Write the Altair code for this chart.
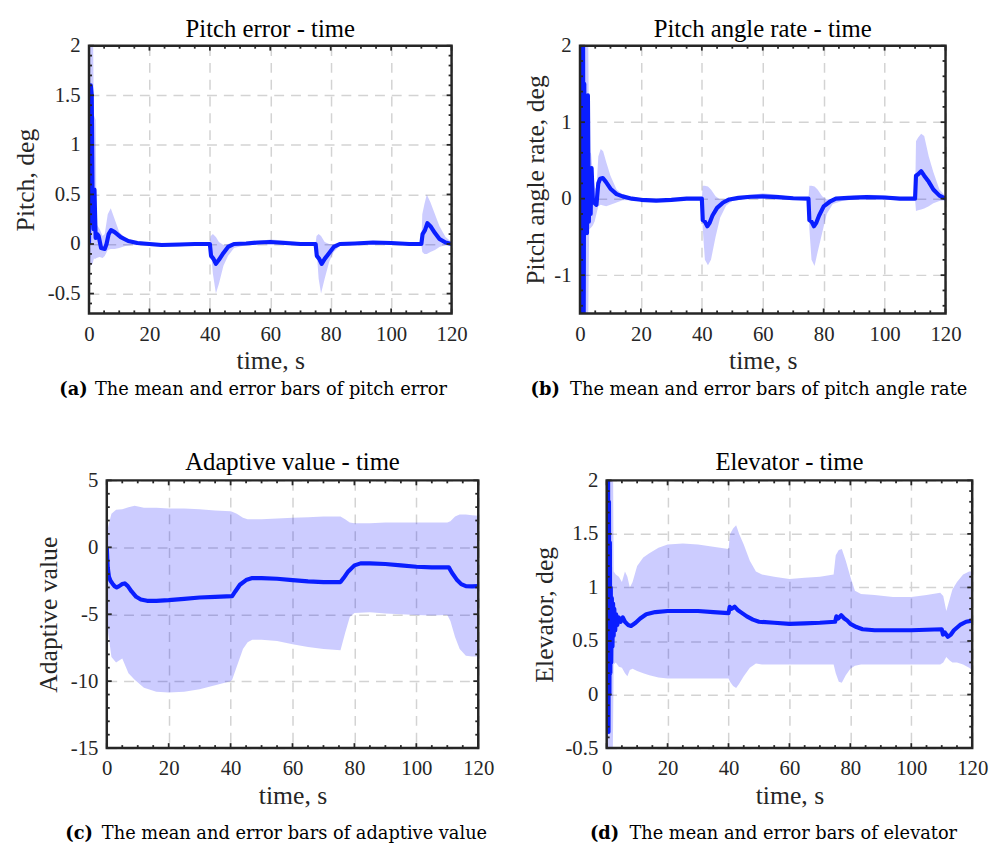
import altair as alt
import pandas as pd

# ---------------- data ----------------
X_MAJOR = [0, 20, 40, 60, 80, 100, 120]
X_MINOR = [5, 10, 15, 25, 30, 35, 45, 50, 55, 65, 70, 75, 85, 90, 95, 105, 110, 115]

# (a) pitch error
A_T = [0, 0.2, 0.6, 0.9, 1.2, 1.5, 1.8, 2.2, 2.7, 3.2, 4.0, 5.2, 5.8, 6.5, 7.3, 8.5, 10.5, 13, 16, 20,
       24, 30, 35, 40, 40.4, 41.2, 42, 43, 44.5, 46, 48, 52, 56, 60, 65, 70, 75, 75.4, 76.2, 77,
       78, 79.5, 81, 83, 88, 94, 100, 106, 110, 110.4, 111.2, 112, 113, 114.5, 116, 118, 120]
A_MEAN = [0, 0.8, 1.6, 1.5, 0.4, 0.15, 0.55, 0.06, 0.1, 0.08, -0.04, -0.05, 0.0, 0.1, 0.14, 0.12, 0.07, 0.03, 0.01, 0.0,
          -0.01, -0.005, 0.0, 0.0, -0.12, -0.15, -0.2, -0.16, -0.09, -0.03, 0.0, 0.005, 0.015, 0.02, 0.01, 0.0, 0.0, -0.12, -0.15, -0.2,
          -0.15, -0.09, -0.03, 0.0, 0.005, 0.015, 0.01, 0.0, 0.0, 0.1, 0.14, 0.21, 0.18, 0.11, 0.05, 0.015, 0.0]
A_BT = [0, 0.5, 1.2, 1.6, 2.2, 2.5, 3.5, 4.5, 5.2, 6.2, 7.2, 8.5, 10, 12, 15, 20, 25, 30, 35, 40,
        40.3, 41, 42, 43, 44.5, 46, 48, 52, 56, 60, 65, 70, 75, 75.3, 76, 76.8, 78, 79.5, 81, 83,
        88, 94, 100, 106, 110, 110.3, 111, 111.8, 113, 114.5, 116, 118, 120]
A_UP = [2.6, 2.6, 2.6, 1.3, 1.25, 0.2, 0.15, 0.08, 0.1, 0.3, 0.36, 0.25, 0.12, 0.06, 0.03, 0.015, 0.01, 0.01, 0.01, 0.01,
        0.08, 0.1, 0.07, 0.02, -0.01, 0.0, 0.02, 0.02, 0.03, 0.045, 0.035, 0.015, 0.01, 0.08, 0.1, 0.08, 0.02, 0.0, 0.0, 0.01,
        0.02, 0.03, 0.02, 0.01, 0.01, 0.3, 0.4, 0.5, 0.42, 0.3, 0.18, 0.07, 0.02]
A_LO = [-0.15, -0.22, -0.2, -0.15, -0.15, -0.14, -0.13, -0.14, -0.12, -0.06, -0.05, -0.05, -0.04, -0.02, -0.01, -0.02, -0.03, -0.025, -0.01, -0.01,
        -0.05, -0.3, -0.5, -0.4, -0.22, -0.12, -0.04, -0.01, 0.0, 0.0, -0.01, -0.01, -0.01, -0.05, -0.35, -0.5, -0.35, -0.18, -0.08, -0.02,
        -0.01, 0.0, -0.01, -0.01, -0.01, -0.08, -0.1, -0.1, -0.08, -0.06, -0.03, -0.01, -0.01]
A_Y_MAJOR = [-0.5, 0, 0.5, 1, 1.5, 2]
A_Y_MINOR = [-0.6, -0.4, -0.3, -0.2, -0.1, 0.1, 0.2, 0.3, 0.4, 0.6, 0.7, 0.8, 0.9, 1.1, 1.2, 1.3, 1.4, 1.6, 1.7, 1.8, 1.9]

# (b) pitch angle rate
B_T = [0, 0.2, 0.4, 0.6, 0.8, 1.0, 1.2, 1.4, 1.7, 2.0, 2.3, 2.6, 2.9, 3.2, 3.5, 3.8, 4.2, 4.8, 5.4, 6.0,
       6.6, 7.5, 8.5, 10, 12, 14, 17, 20, 25, 30, 35, 40, 40.3, 41, 41.8, 42.5, 43.5, 45, 47, 49,
       52, 56, 60, 65, 70, 75, 75.3, 76, 76.8, 77.5, 78.5, 80, 82, 84, 88, 94, 100, 105, 110, 110.3,
       111, 112, 113, 114.5, 116, 118, 120]
B_MEAN = [0.15, 2.5, -1.8, 2.5, -1.8, 2.2, -1.8, 1.5, -0.4, 0.5, -0.45, 1.35, -0.3, 0.3, -0.2, 0.4, 0.0, -0.06, -0.08, 0.2,
          0.26, 0.27, 0.22, 0.13, 0.06, 0.03, 0.0, -0.015, -0.025, -0.015, 0.0, 0.0, -0.28, -0.3, -0.36, -0.32, -0.22, -0.12, -0.05, -0.01,
          0.01, 0.025, 0.03, 0.02, 0.005, 0.0, -0.28, -0.3, -0.36, -0.32, -0.22, -0.1, -0.04, 0.0, 0.01, 0.02, 0.015, 0.0, 0.0, 0.3,
          0.32, 0.36, 0.3, 0.22, 0.12, 0.04, 0.0]
B_BT = [0, 1.0, 2.0, 2.6, 3.0, 3.6, 4.2, 4.8, 5.4, 6.0, 6.8, 7.6, 8.6, 10, 12, 14, 17, 20, 25, 30,
        35, 40, 40.3, 41, 42, 43, 44.5, 46, 48, 50, 55, 60, 65, 70, 75, 75.3, 76, 77, 78, 79.5,
        81, 83, 86, 90, 95, 100, 105, 110, 110.3, 111, 112, 113, 114.5, 116, 118, 120]
B_UP = [2.6, 2.6, 2.6, 2.6, 0.6, 0.6, 0.35, 0.15, 0.12, 0.55, 0.65, 0.62, 0.48, 0.3, 0.12, 0.05, 0.02, 0.005, -0.005, 0.005,
        0.01, 0.01, 0.17, 0.17, 0.16, 0.12, 0.03, -0.01, 0.0, 0.01, 0.04, 0.07, 0.05, 0.02, 0.01, 0.17, 0.17, 0.16, 0.12, 0.03,
        -0.01, 0.0, 0.02, 0.04, 0.05, 0.04, 0.02, 0.01, 0.75, 0.8, 0.85, 0.82, 0.55, 0.35, 0.12, 0.03]
B_LO = [-2.0, -2.0, -2.0, -2.0, -0.4, -0.38, -0.35, -0.3, -0.2, -0.1, -0.08, -0.09, -0.1, -0.08, -0.05, -0.02, -0.02, -0.03, -0.04, -0.03,
        -0.01, -0.01, -0.4, -0.8, -0.87, -0.8, -0.5, -0.25, -0.09, -0.03, 0.0, 0.0, -0.01, -0.01, -0.01, -0.4, -0.8, -0.88, -0.7, -0.45,
        -0.2, -0.07, -0.03, -0.01, 0.0, -0.01, -0.01, -0.01, -0.16, -0.15, -0.14, -0.13, -0.1, -0.06, -0.03, -0.02]
B_Y_MAJOR = [-1, 0, 1, 2]
B_Y_MINOR = [-1.4, -1.2, -0.8, -0.6, -0.4, -0.2, 0.2, 0.4, 0.6, 0.8, 1.2, 1.4, 1.6, 1.8]

# (c) adaptive value
C_T = [0, 0.3, 0.7, 1.2, 1.8, 2.5, 3.2, 4.0, 5.0, 5.8, 6.8, 8.0, 9.5, 11, 13, 16, 20, 25, 30, 35,
       40.5, 41.5, 43, 45, 47, 50, 55, 60, 65, 70, 75.5, 76.5, 78, 80, 82, 85, 90, 95, 100, 105,
       110.5, 111.5, 113, 114.5, 116, 118, 120]
C_MEAN = [0, -1.5, -2.2, -2.5, -2.7, -2.9, -3.0, -2.9, -2.75, -2.7, -2.9, -3.3, -3.7, -3.9, -4.0, -4.0, -3.95, -3.85, -3.75, -3.7,
          -3.65, -3.3, -2.8, -2.45, -2.3, -2.3, -2.35, -2.45, -2.55, -2.6, -2.6, -2.3, -1.8, -1.35, -1.2, -1.2, -1.25, -1.35, -1.45, -1.5,
          -1.5, -1.9, -2.4, -2.75, -2.9, -2.92, -2.9]
C_BT = [0, 0.5, 1.5, 3, 5, 7, 9, 12, 16, 20, 25, 30, 35, 40, 40.5, 42, 44, 45.5, 47, 50,
        55, 60, 65, 70, 75.5, 77, 78.5, 80, 85, 90, 95, 100, 105, 110, 111, 112.5, 114, 116, 118, 120]
C_UP = [1.0, 1.6, 2.5, 2.8, 2.85, 3.0, 3.1, 2.95, 2.95, 2.9, 2.9, 2.85, 2.75, 2.7, 2.65, 2.5, 2.2, 2.1, 2.1, 2.1,
        2.15, 2.2, 2.25, 2.3, 2.3, 2.1, 1.85, 1.8, 1.8, 1.85, 1.85, 1.85, 1.85, 1.85, 1.95, 2.3, 2.45, 2.45, 2.4, 2.35]
C_LO = [-5.5, -6.5, -8.2, -8.6, -8.3, -9.4, -9.9, -10.5, -10.8, -10.85, -10.8, -10.6, -10.3, -10.0, -9.9, -8.9, -7.6, -7.1, -6.9, -6.9,
        -7.0, -7.25, -7.45, -7.6, -7.7, -6.4, -5.2, -4.9, -4.85, -4.95, -5.0, -5.05, -5.1, -5.05, -5.5, -6.7, -7.6, -8.1, -8.15, -8.15]
C_Y_MAJOR = [-15, -10, -5, 0, 5]
C_Y_MINOR = [-14, -13, -12, -11, -9, -8, -7, -6, -4, -3, -2, -1, 1, 2, 3, 4]

# (d) elevator
D_T = [0, 0.15, 0.3, 0.45, 0.6, 0.75, 0.9, 1.05, 1.2, 1.35, 1.5, 1.7, 1.9, 2.1, 2.3, 2.5, 2.8, 3.1, 3.5, 4.0,
       4.6, 5.3, 6.0, 7.0, 8.0, 9.5, 11, 13, 16, 20, 25, 30, 35, 40, 40.4, 41, 42, 43, 44, 46,
       48, 50, 55, 60, 65, 70, 75, 75.4, 76, 77, 78, 79, 80, 82, 84, 88, 94, 100, 105, 110,
       110.4, 111, 112, 113, 114, 116, 118, 120]
D_MEAN = [0.5, 2.3, -0.2, 2.3, -0.35, 1.8, 0.0, 1.42, 0.2, 1.0, 0.3, 0.9, 0.45, 0.85, 0.55, 0.8, 0.6, 0.75, 0.65, 0.72,
          0.68, 0.72, 0.68, 0.65, 0.64, 0.67, 0.71, 0.75, 0.77, 0.78, 0.78, 0.78, 0.77, 0.76, 0.82, 0.8, 0.82, 0.79, 0.77, 0.73,
          0.7, 0.68, 0.67, 0.66, 0.665, 0.67, 0.68, 0.73, 0.71, 0.74, 0.71, 0.69, 0.66, 0.63, 0.61, 0.6, 0.6, 0.6, 0.605, 0.61,
          0.56, 0.58, 0.54, 0.56, 0.6, 0.65, 0.68, 0.69]
D_BT = [0, 1.0, 2.0, 2.3, 3.0, 4.0, 5.0, 6.0, 6.8, 7.6, 8.5, 10, 12, 14, 17, 20, 25, 30, 35, 40,
        40.5, 41.5, 42.5, 43.5, 45, 47, 49, 51, 55, 60, 65, 70, 74.5, 75.2, 76.2, 77.2, 78.5, 80, 81.5, 83.5,
        88, 94, 100, 105, 109.5, 110.5, 111.5, 112.5, 113.5, 115, 117, 119, 120]
D_UP = [2.6, 2.6, 2.6, 1.15, 1.12, 1.1, 1.05, 1.15, 1.1, 1.0, 1.05, 1.2, 1.28, 1.32, 1.37, 1.4, 1.41, 1.4, 1.38, 1.36,
        1.5, 1.55, 1.58, 1.5, 1.4, 1.25, 1.15, 1.12, 1.1, 1.08, 1.09, 1.1, 1.12, 1.3, 1.35, 1.36, 1.25, 1.1, 0.97, 0.94,
        0.93, 0.91, 0.91, 0.93, 0.95, 0.92, 0.78, 0.88, 0.98, 1.05, 1.12, 1.15, 1.15]
D_LO = [-0.6, -0.6, -0.6, 0.28, 0.3, 0.26, 0.25, 0.2, 0.17, 0.23, 0.24, 0.22, 0.2, 0.18, 0.16, 0.15, 0.15, 0.15, 0.15, 0.15,
        0.12, 0.08, 0.06, 0.1, 0.17, 0.25, 0.29, 0.28, 0.28, 0.28, 0.28, 0.28, 0.28, 0.2, 0.12, 0.11, 0.18, 0.24, 0.27, 0.28,
        0.28, 0.28, 0.28, 0.28, 0.28, 0.3, 0.35, 0.32, 0.3, 0.3, 0.28, 0.25, 0.23]
D_Y_MAJOR = [-0.5, 0, 0.5, 1, 1.5, 2]
D_Y_MINOR = [-0.4, -0.3, -0.2, -0.1, 0.1, 0.2, 0.3, 0.4, 0.6, 0.7, 0.8, 0.9, 1.1, 1.2, 1.3, 1.4, 1.6, 1.7, 1.8, 1.9]

TITLES = ["Pitch error - time", "Pitch angle rate - time", "Adaptive value - time", "Elevator - time"]
Y_TITLES = ["Pitch, deg", "Pitch angle rate, deg", "Adaptive value", "Elevator, deg"]
CAP_TAGS = ["(a)", "(b)", "(c)", "(d)"]
CAPTIONS = ["The mean and error bars of pitch error",
            "The mean and error bars of pitch angle rate",
            "The mean and error bars of adaptive value",
            "The mean and error bars of elevator"]

# ---------------- style ----------------
FONT = "Liberation Serif"
CAP_FONT = "DejaVu Serif"
LINE_COLOR = "#0a1eff"
BAND_COLOR = "#0000ff"
AX_COLOR = "#262626"
GRID_COLOR = "#d3d3d3"
TICK_FS = 21
TITLE_FS = 25
AXTITLE_FS = 26

# layout per panel: plot size, invisible extent box, text offsets
LAYOUT = [
    dict(w=367, h=271, L=78, R=41, T=32, B=110, ytx=-64, ty=-9, cbx=-30, ctx=6, cy=83),
    dict(w=370, h=271, L=87, R=0, T=32, B=110, ytx=-45, ty=-9, cbx=-50, ctx=-10, cy=83),
    dict(w=376, h=271, L=96, R=40, T=57, B=0, ytx=-59, ty=-10, cbx=-42, ctx=-5, cy=92),
    dict(w=370, h=271, L=88, R=0, T=57, B=0, ytx=-63, ty=-10, cbx=-17, ctx=23, cy=92),
]

SERIES = [
    (A_T, A_MEAN, A_BT, A_UP, A_LO, [-0.7, 2], A_Y_MAJOR, A_Y_MINOR),
    (B_T, B_MEAN, B_BT, B_UP, B_LO, [-1.5, 2], B_Y_MAJOR, B_Y_MINOR),
    (C_T, C_MEAN, C_BT, C_UP, C_LO, [-15, 5], C_Y_MAJOR, C_Y_MINOR),
    (D_T, D_MEAN, D_BT, D_UP, D_LO, [-0.5, 2], D_Y_MAJOR, D_Y_MINOR),
]

ONE = pd.DataFrame({"k": [0]})


def make_panel(i):
    t, m, bt, up, lo, ydom, ymaj, ymin = SERIES[i]
    p = LAYOUT[i]
    w, h = p["w"], p["h"]
    xs = alt.Scale(domain=[0, 120], nice=False, zero=False)
    ys = alt.Scale(domain=ydom, nice=False, zero=False)
    xa = alt.Axis(values=X_MAJOR, grid=True, gridDash=[10, 7], gridColor=GRID_COLOR, gridWidth=1.5,
                  domain=False, ticks=False, labelFont=FONT, labelFontSize=TICK_FS, labelColor=AX_COLOR,
                  labelPadding=10, labelFlush=False, labelOverlap=False,
                  title="time, s", titleFont=FONT, titleFontSize=AXTITLE_FS, titleFontWeight="normal",
                  titleColor=AX_COLOR, titleX=w / 2, titleY=48, titleAlign="center",
                  titleBaseline="middle")
    ya = alt.Axis(values=ymaj, grid=True, gridDash=[10, 7], gridColor=GRID_COLOR, gridWidth=1.5,
                  domain=False, ticks=False, labelFont=FONT, labelFontSize=TICK_FS, labelColor=AX_COLOR,
                  labelPadding=9, labelFlush=False, labelOverlap=False, labelExpr="'' + datum.value",
                  title=Y_TITLES[i], titleFont=FONT, titleFontSize=AXTITLE_FS, titleFontWeight="normal",
                  titleColor=AX_COLOR, titleAngle=270, titleX=p["ytx"], titleY=h / 2,
                  titleAlign="center", titleBaseline="middle")
    X = alt.X("t:Q", scale=xs, axis=xa)
    Y = alt.Y("v:Q", scale=ys, axis=ya)
    band_df = pd.DataFrame({"t": bt, "lo": lo, "up": up})
    line_df = pd.DataFrame({"t": t, "v": m})

    layers = [
        alt.Chart(ONE).mark_rect(opacity=0).encode(
            x=alt.value(-p["L"]), x2=alt.value(w + p["R"]),
            y=alt.value(-p["T"]), y2=alt.value(h + p["B"])),
        alt.Chart(band_df).mark_area(clip=True, color=BAND_COLOR, opacity=0.2).encode(
            x=X, y=alt.Y("lo:Q", scale=ys, axis=ya), y2="up:Q"),
        alt.Chart(line_df).mark_line(clip=True, color=LINE_COLOR, strokeWidth=4.2,
                                     strokeJoin="round").encode(x=X, y=Y),
    ]
    for vals, ln in ((X_MAJOR, 5), (X_MINOR, 3)):
        df = pd.DataFrame({"t": vals})
        for y0, y1 in ((h - ln, h), (0, ln)):
            layers.append(alt.Chart(df).mark_rule(color=AX_COLOR, strokeWidth=1.8).encode(
                x=X, y=alt.value(y0), y2=alt.value(y1)))
    for vals, ln in ((ymaj, 5), (ymin, 3)):
        df = pd.DataFrame({"v": vals})
        for x0, x1 in ((0, ln), (w - ln, w)):
            layers.append(alt.Chart(df).mark_rule(color=AX_COLOR, strokeWidth=1.8).encode(
                y=Y, x=alt.value(x0), x2=alt.value(x1)))
    layers.append(alt.Chart(ONE).mark_rect(filled=False, stroke=AX_COLOR, strokeWidth=2.5).encode(
        x=alt.value(0), x2=alt.value(w), y=alt.value(0), y2=alt.value(h)))
    layers.append(alt.Chart(ONE).mark_text(text=TITLES[i], font=FONT, fontSize=TITLE_FS, color="#000000",
                                           align="center", baseline="alphabetic").encode(
        x=alt.value(w / 2), y=alt.value(p["ty"])))
    layers.append(alt.Chart(ONE).mark_text(text=CAP_TAGS[i], font=CAP_FONT, fontSize=18,
                                           fontWeight="bold", color="#000000", align="left",
                                           baseline="alphabetic").encode(
        x=alt.value(p["cbx"]), y=alt.value(h + p["cy"])))
    layers.append(alt.Chart(ONE).mark_text(text=CAPTIONS[i], font=CAP_FONT, fontSize=18,
                                           color="#000000", align="left",
                                           baseline="alphabetic").encode(
        x=alt.value(p["ctx"]), y=alt.value(h + p["cy"])))
    return alt.layer(*layers).properties(width=w, height=h)


def spacer():
    return alt.Chart(ONE).mark_rect(opacity=0).encode(
        x=alt.value(0), x2=alt.value(1), y=alt.value(0), y2=alt.value(1)
    ).properties(width=1, height=1)


panels = [make_panel(i) for i in range(4)]
chart = alt.vconcat(
    alt.hconcat(spacer(), panels[0], panels[1], spacing=0),
    alt.hconcat(spacer(), panels[2], panels[3], spacing=0),
    spacing=0,
).properties(padding=0).configure_view(stroke="transparent")

chart.save("out.html", embed_options={"renderer": "svg", "actions": False})
